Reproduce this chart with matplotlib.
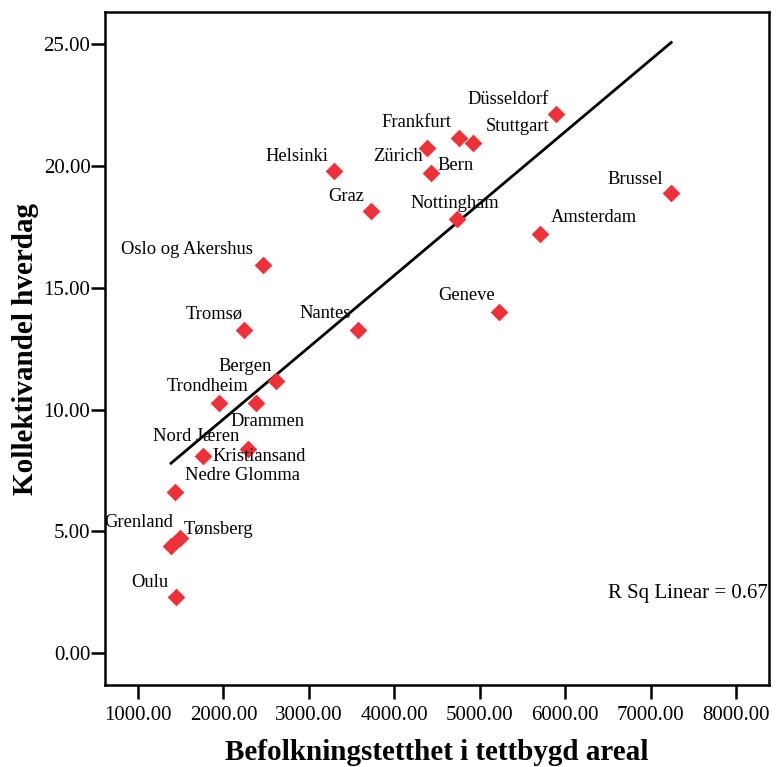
import numpy as np
import matplotlib
matplotlib.use("Agg")
import matplotlib.pyplot as plt

plt.rcParams['font.family'] = ['Liberation Serif', 'DejaVu Serif']

# Cities: population density in built-up area vs. public transport share on weekdays
cities = ["Helsinki", "Graz", "Oslo og Akershus", "Zürich", "Bern", "Frankfurt",
          "Stuttgart", "Düsseldorf", "Brussel", "Nottingham", "Amsterdam", "Geneve",
          "Tromsø", "Nantes", "Bergen", "Trondheim", "Drammen", "Nord Jæren",
          "Kristiansand", "Nedre Glomma", "Grenland", "Tønsberg", "Oulu"]
density = [3295, 3728, 2464, 4427, 4380, 4759,
           4927, 5895, 7241, 4732, 5707, 5231,
           2245, 3580, 2616, 2382, 1948, 2292,
           1757, 1433, 1387, 1492, 1441]
transit_share = [19.80, 18.16, 15.94, 19.73, 20.76, 21.17,
                 20.97, 22.14, 18.89, 17.82, 17.20, 14.02,
                 13.27, 13.27, 11.19, 10.28, 10.28, 8.37,
                 8.11, 6.63, 4.41, 4.74, 2.30]
x_ticks = [1000, 2000, 3000, 4000, 5000, 6000, 7000, 8000]
y_ticks = [0, 5, 10, 15, 20, 25]
r_sq_text = "R Sq Linear = 0.67"

# label placement: (dx, dy) in pixels from the marker, horizontal alignment
label_offsets = {
    "Helsinki": (-6, 14, "right"), "Graz": (-7, 14, "right"),
    "Oslo og Akershus": (-10, 15, "right"), "Zürich": (-8, 16, "right"),
    "Bern": (11, -18, "left"), "Frankfurt": (-8, 15, "right"),
    "Stuttgart": (12, 16, "left"), "Düsseldorf": (-8, 15, "right"),
    "Brussel": (-8, 14, "right"), "Nottingham": (-2, 16, "center"),
    "Amsterdam": (11, 17, "left"), "Geneve": (-5, 16, "right"),
    "Tromsø": (-2, 16, "right"), "Nantes": (-8, 16, "right"),
    "Bergen": (-4, 14, "right"), "Trondheim": (-8, 16, "right"),
    "Drammen": (11, -19, "left"), "Nord Jæren": (-9, 13, "right"),
    "Kristiansand": (10, -1, "left"), "Nedre Glomma": (10, 16, "left"),
    "Grenland": (2, 23, "right"), "Tønsberg": (4, 8, "left"),
    "Oulu": (-7, 15, "right"),
}

x = np.array(density, dtype=float)
y = np.array(transit_share, dtype=float)

fig = plt.figure(figsize=(7.77, 7.67), dpi=100)
ax = fig.add_axes([105 / 777, 1 - 685 / 767, 664 / 777, 673 / 767])

ax.scatter(x, y, marker="D", s=9.0 ** 2, color="#ee3039", linewidths=0, zorder=3)

# least-squares fit line over the data range
slope, intercept = np.polyfit(x, y, 1)
xf = np.array([x.min(), x.max()])
ax.plot(xf, slope * xf + intercept, color="black", lw=2.0, zorder=2)

for name, xv, yv in zip(cities, x, y):
    dx, dy, ha = label_offsets[name]
    ax.annotate(name, (xv, yv), xytext=(dx, dy), textcoords="offset pixels",
                ha=ha, va="center", fontsize=13.3, color="black", zorder=4)

ax.text(0.998, 0.136, r_sq_text, transform=ax.transAxes, ha="right",
        va="center", fontsize=15)

ax.set_xlim(614, 8386)
ax.set_ylim(-1.31, 26.33)
ax.set_xticks(x_ticks)
ax.set_yticks(y_ticks)
ax.set_xticklabels([f"{v:.2f}" for v in x_ticks])
ax.set_yticklabels([f"{v:.2f}" for v in y_ticks])
ax.tick_params(axis="both", direction="out", length=10, width=1.8,
               labelsize=15, colors="black")
ax.tick_params(axis="y", pad=0.5)
ax.tick_params(axis="x", pad=5)
for sp in ax.spines.values():
    sp.set_linewidth(1.8)
    sp.set_color("black")

ax.set_xlabel("Befolkningstetthet i tettbygd areal", fontsize=21,
              fontweight="bold", labelpad=10)
ax.set_ylabel("Kollektivandel hverdag", fontsize=21, fontweight="bold",
              labelpad=3)

fig.savefig("out.png", dpi=100)
